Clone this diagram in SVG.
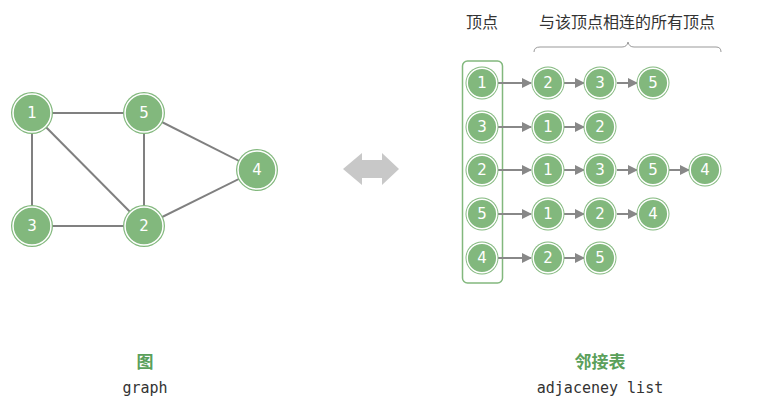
<svg xmlns="http://www.w3.org/2000/svg" width="770" height="412" viewBox="0 0 770 412">
<defs>
<style>
.o{fill:#82b87d}
.i{fill:#82b87d;stroke:#fff;stroke-width:1.5}
.n text{fill:#fff;font-family:"DejaVu Sans","Noto Sans",sans-serif;font-size:15px;text-anchor:middle;dominant-baseline:central}
.e line{stroke:#808080;stroke-width:2}
.a line{stroke:#888;stroke-width:2}
.t{font-family:"Noto Sans CJK SC","Noto Sans",sans-serif;fill:#333;font-size:16px;text-anchor:middle}
.g{font-family:"Noto Sans CJK SC",sans-serif;fill:#5aa05a;font-size:17px;font-weight:bold;text-anchor:middle}
.m{font-family:"DejaVu Sans Mono","Liberation Mono",monospace;fill:#333;font-size:15px;text-anchor:middle}
</style>
<marker id="ah" viewBox="0 0 10 10" refX="9" refY="5" markerWidth="10" markerHeight="10" markerUnits="userSpaceOnUse" orient="auto">
<path d="M0,0 L10,5 L0,10 z" fill="#888"/>
</marker>
<g id="nd"><circle class="o" r="21" fill="#82b87d"/><circle class="i" r="19" fill="#82b87d" stroke="#fff" stroke-width="1.5"/></g>
<g id="sd"><circle class="o" r="16.5" fill="#82b87d"/><circle class="i" r="14.8" fill="#82b87d" stroke="#fff" stroke-width="1.3"/></g>
</defs>
<rect width="770" height="412" fill="#fff"/>

<g class="e" id="edges">
<line x1="32" y1="113" x2="144" y2="113"/>
<line x1="32" y1="113" x2="32" y2="226"/>
<line x1="32" y1="113" x2="144" y2="226"/>
<line x1="144" y1="113" x2="144" y2="226"/>
<line x1="144" y1="113" x2="257" y2="170"/>
<line x1="32" y1="226" x2="144" y2="226"/>
<line x1="144" y1="226" x2="257" y2="170"/>
</g>
<g class="n" id="g1"><use href="#nd" x="32" y="113"/><text x="32" y="113">1</text></g>
<g class="n" id="g5"><use href="#nd" x="144" y="113"/><text x="144" y="113">5</text></g>
<g class="n" id="g4"><use href="#nd" x="257" y="170"/><text x="257" y="170">4</text></g>
<g class="n" id="g3"><use href="#nd" x="32" y="226"/><text x="32" y="226">3</text></g>
<g class="n" id="g2"><use href="#nd" x="144" y="226"/><text x="144" y="226">2</text></g>

<path id="dbl" d="M343,169 L362,153 L362,160 L382,160 L382,153 L399,169 L382,185 L382,178 L362,178 L362,185 Z" fill="#c8c8c8"/>

<text class="t" x="482" y="28">顶点</text>
<text class="t" x="627" y="28">与该顶点相连的所有顶点</text>
<path id="brace" d="M534,52 Q534,47 540,47 L622,47 Q627,47 628,42 Q629,47 634,47 L716,47 Q721,47 721,52" fill="none" stroke="#999" stroke-width="1"/>

<rect id="head" x="462.5" y="61" width="40" height="222" rx="5" fill="none" stroke="#82b87d" stroke-width="1.5"/>

<g class="a" id="arrows">
<line x1="498" y1="83" x2="531" y2="83" marker-end="url(#ah)"/>
<line x1="564" y1="83" x2="584" y2="83" marker-end="url(#ah)"/>
<line x1="617" y1="83" x2="637" y2="83" marker-end="url(#ah)"/>
<line x1="498" y1="127" x2="531" y2="127" marker-end="url(#ah)"/>
<line x1="564" y1="127" x2="584" y2="127" marker-end="url(#ah)"/>
<line x1="498" y1="170" x2="531" y2="170" marker-end="url(#ah)"/>
<line x1="564" y1="170" x2="584" y2="170" marker-end="url(#ah)"/>
<line x1="617" y1="170" x2="637" y2="170" marker-end="url(#ah)"/>
<line x1="669" y1="170" x2="689" y2="170" marker-end="url(#ah)"/>
<line x1="498" y1="214" x2="531" y2="214" marker-end="url(#ah)"/>
<line x1="564" y1="214" x2="584" y2="214" marker-end="url(#ah)"/>
<line x1="617" y1="214" x2="637" y2="214" marker-end="url(#ah)"/>
<line x1="498" y1="258" x2="531" y2="258" marker-end="url(#ah)"/>
<line x1="564" y1="258" x2="584" y2="258" marker-end="url(#ah)"/>
</g>

<g class="n" id="h1"><use href="#sd" x="482" y="83"/><text x="482" y="83">1</text></g>
<g class="n" id="h3"><use href="#sd" x="482" y="127"/><text x="482" y="127">3</text></g>
<g class="n" id="h2"><use href="#sd" x="482" y="170"/><text x="482" y="170">2</text></g>
<g class="n" id="h5"><use href="#sd" x="482" y="214"/><text x="482" y="214">5</text></g>
<g class="n" id="h4"><use href="#sd" x="482" y="258"/><text x="482" y="258">4</text></g>

<g class="n" id="r1a"><use href="#sd" x="548" y="83"/><text x="548" y="83">2</text></g>
<g class="n" id="r1b"><use href="#sd" x="600" y="83"/><text x="600" y="83">3</text></g>
<g class="n" id="r1c"><use href="#sd" x="653" y="83"/><text x="653" y="83">5</text></g>

<g class="n" id="r3a"><use href="#sd" x="548" y="127"/><text x="548" y="127">1</text></g>
<g class="n" id="r3b"><use href="#sd" x="600" y="127"/><text x="600" y="127">2</text></g>

<g class="n" id="r2a"><use href="#sd" x="548" y="170"/><text x="548" y="170">1</text></g>
<g class="n" id="r2b"><use href="#sd" x="600" y="170"/><text x="600" y="170">3</text></g>
<g class="n" id="r2c"><use href="#sd" x="653" y="170"/><text x="653" y="170">5</text></g>
<g class="n" id="r2d"><use href="#sd" x="705" y="170"/><text x="705" y="170">4</text></g>

<g class="n" id="r5a"><use href="#sd" x="548" y="214"/><text x="548" y="214">1</text></g>
<g class="n" id="r5b"><use href="#sd" x="600" y="214"/><text x="600" y="214">2</text></g>
<g class="n" id="r5c"><use href="#sd" x="653" y="214"/><text x="653" y="214">4</text></g>

<g class="n" id="r4a"><use href="#sd" x="548" y="258"/><text x="548" y="258">2</text></g>
<g class="n" id="r4b"><use href="#sd" x="600" y="258"/><text x="600" y="258">5</text></g>

<text class="g" x="145" y="368">图</text>
<text class="m" x="145" y="393">graph</text>
<text class="g" x="600" y="368">邻接表</text>
<text class="m" x="600" y="393">adjaceney list</text>
</svg>
